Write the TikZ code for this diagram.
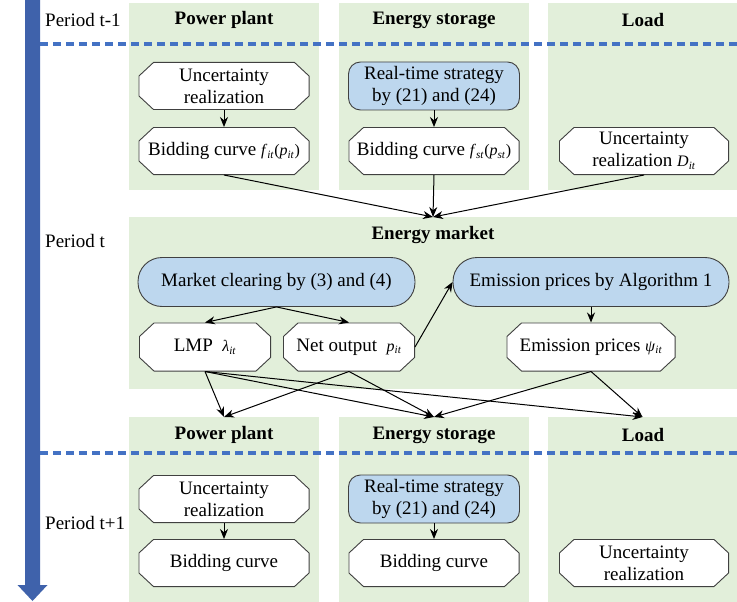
\documentclass[tikz,border=0pt]{standalone}
\usepackage{fontspec}
\setmainfont{Liberation Serif}
\usetikzlibrary{arrows.meta,calc}
\definecolor{panelg}{HTML}{E2EFDA}
\definecolor{nodeb}{HTML}{BDD7EE}
\definecolor{arrb}{HTML}{3F62AB}
\definecolor{dashb}{HTML}{4472C4}
\newcommand{\vsub}[2]{{\fontsize{16}{16}\selectfont\textit{#1}\textsubscript{\textit{#2}}}}
\newcommand{\smp}[1]{{\fontsize{16}{16}\selectfont #1}}
\begin{document}
\begin{tikzpicture}[x=1pt,y=-1pt,
  font=\fontsize{19}{22}\selectfont,
  panel/.style={fill=panelg, draw=none, inner sep=0pt, outer sep=0pt},
  hdr/.style={font=\fontsize{19}{22}\selectfont\bfseries},
  oct/.style={rectangle, inner sep=0pt, outer sep=0pt, align=center, minimum width=171pt, minimum height=48pt,
    path picture={
      \path[fill=white, draw=black!75, line width=0.9pt]
        ($(path picture bounding box.north west)+(15,0.45)$)
        -- ($(path picture bounding box.north east)+(-15,0.45)$)
        -- ($(path picture bounding box.north east)+(-0.45,14)$)
        -- ($(path picture bounding box.south east)+(-0.45,-14)$)
        -- ($(path picture bounding box.south east)+(-15,-0.45)$)
        -- ($(path picture bounding box.south west)+(15,-0.45)$)
        -- ($(path picture bounding box.south west)+(0.45,-14)$)
        -- ($(path picture bounding box.north west)+(0.45,14)$)
        -- cycle;}},
  rbox/.style={rectangle, rounded corners=12pt, draw=black!75, fill=nodeb, line width=0.9pt, minimum width=171pt, minimum height=48pt, inner sep=0pt, align=center},
  stad/.style={rectangle, rounded corners=24pt, draw=black!75, fill=nodeb, line width=0.9pt, minimum height=49pt, inner sep=0pt, align=center},
  arr/.style={-{Stealth[length=10pt,width=8pt]}, line width=1pt},
  dline/.style={dashb, line width=3.5pt, dash pattern=on 8pt off 5pt}
]
\useasboundingbox (0,0) rectangle (737,602);
% panels
\node[panel, minimum width=190pt, minimum height=187pt] (pp1) at (224,96.5) {};
\node[panel, minimum width=190pt, minimum height=187pt] (es1) at (434,96.5) {};
\node[panel, minimum width=189pt, minimum height=187pt] (ld1) at (642.5,96.5) {};
\node[panel, minimum width=608pt, minimum height=172pt] (em) at (433,303) {};
\node[panel, minimum width=190pt, minimum height=185pt] (pp3) at (224,509.5) {};
\node[panel, minimum width=190pt, minimum height=185pt] (es3) at (434,509.5) {};
\node[panel, minimum width=189pt, minimum height=185pt] (ld3) at (642.5,509.5) {};
% time arrow
\fill[arrb] (25,0) -- (40,0) -- (40,585) -- (47.5,585) -- (32.5,601) -- (17.5,585) -- (25,585) -- cycle;
% dashed lines
\draw[dline] (40,44) -- (737,44);
\draw[dline] (40,453) -- (737,453);
% period labels
\node[anchor=west, inner sep=0pt] (t1) at (45,20) {Period t-1};
\node[anchor=west, inner sep=0pt] (t2) at (45,241) {Period t};
\node[anchor=west, inner sep=0pt] (t3) at (45,523) {Period t+1};
% headers
\node[hdr] (h1) at (224,20) {Power plant};
\node[hdr] (h2) at (434,20) {Energy storage};
\node[hdr] (h3) at (643,20) {Load};
\node[hdr] (h4) at (433,235) {Energy market};
\node[hdr] (h5) at (224,435) {Power plant};
\node[hdr] (h6) at (434,435) {Energy storage};
\node[hdr] (h7) at (643,435) {Load};
% period t-1 nodes
\node[oct] (u1) at (224,86) {Uncertainty\\realization};
\node[oct] (b1) at (224,151) {Bidding curve \vsub{f}{it}\smp{(}\vsub{p}{it}\smp{)}};
\node[rbox] (r1) at (434,86) {Real-time strategy\\by (21) and (24)};
\node[oct] (s1) at (434,151) {Bidding curve \vsub{f}{st}\smp{(}\vsub{p}{st}\smp{)}};
\node[oct, minimum width=170pt] (l1) at (644,151) {Uncertainty\\realization \vsub{D}{it}};
% market nodes
\node[stad, minimum width=277pt] (mc) at (276.5,282) {Market clearing by (3) and (4)};
\node[stad, minimum width=276pt] (ea) at (591,282) {Emission prices by Algorithm 1};
\node[oct, minimum width=132pt, minimum height=49pt] (lmp) at (205,347) {LMP\ \ \vsub{λ}{it}};
\node[oct, minimum width=132pt, minimum height=49pt] (no) at (349,347) {Net output \ \vsub{p}{it}};
\node[oct, minimum width=169pt, minimum height=49pt] (ep) at (591,347) {Emission prices \vsub{ψ}{it}};
% period t+1 nodes
\node[oct] (u3) at (224,499) {Uncertainty\\realization};
\node[oct] (b3) at (224,563) {Bidding curve};
\node[rbox] (r3) at (434,499) {Real-time strategy\\by (21) and (24)};
\node[oct] (s3) at (434,563) {Bidding curve};
\node[oct, minimum width=170pt] (l3) at (644,563) {Uncertainty\\realization};
% connectors
\draw[arr] (u1) -- (b1);
\draw[arr] (r1) -- (s1);
\draw[arr] (b1.south) -- (em.north);
\draw[arr] (s1.south) -- (em.north);
\draw[arr] (l1.south) -- (em.north);
\draw[arr] (mc.south) -- (lmp.north);
\draw[arr] (mc.south) -- (no.north);
\draw[arr] (no.east) -- (ea.west);
\draw[arr] (ea) -- (ep);
\draw[arr] (lmp.south) -- (pp3.north);
\draw[arr] (lmp.south) -- (es3.north);
\draw[arr] (lmp.south) -- (ld3.north);
\draw[arr] (no.south) -- (pp3.north);
\draw[arr] (no.south) -- (es3.north);
\draw[arr] (ep.south) -- (es3.north);
\draw[arr] (ep.south) -- (ld3.north);
\draw[arr] (u3) -- (b3);
\draw[arr] (r3) -- (s3);
\end{tikzpicture}
\end{document}
